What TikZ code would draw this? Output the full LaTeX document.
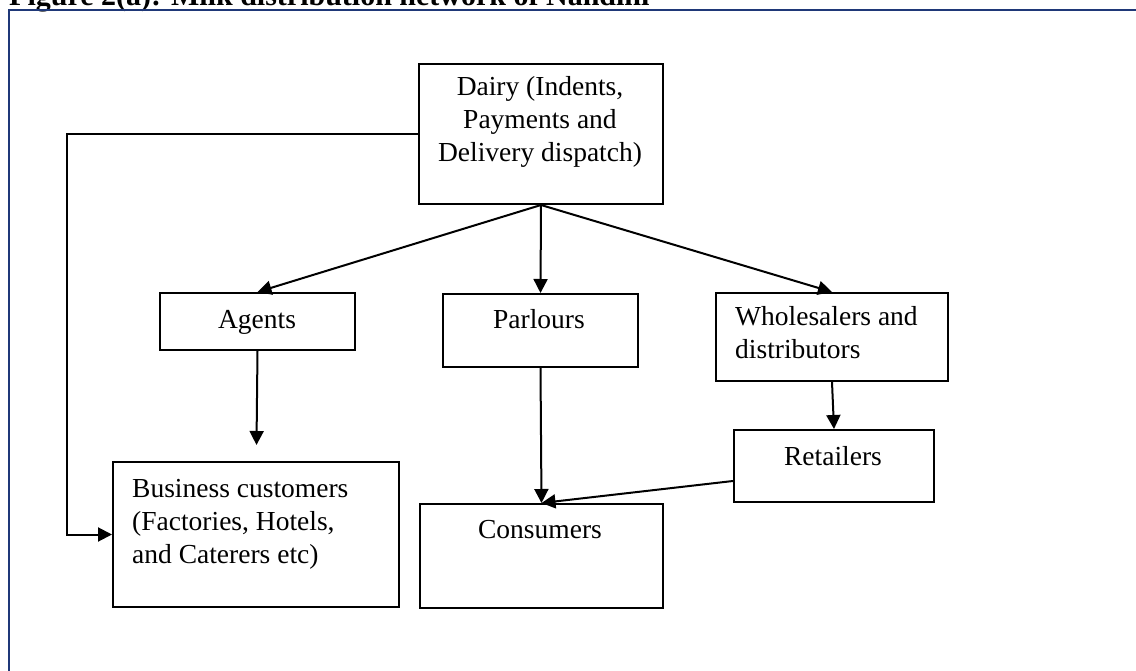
\documentclass[tikz,border=0pt]{standalone}
\usepackage{fontspec}
\setmainfont{Liberation Serif}
\usetikzlibrary{arrows.meta}
\definecolor{framenavy}{RGB}{31,56,120}
\tikzset{
  box/.style={draw=black, line width=2pt, rectangle, inner sep=0pt, anchor=north west},
  txt/.style={inner sep=0pt, font=\fontsize{27.5}{33}\selectfont},
  arr/.style={draw=black, line width=2pt, -{Triangle[length=14pt,width=14pt]}},
  frame/.style={draw=framenavy, line width=2.4pt},
}
\begin{document}
\begin{tikzpicture}[x=1pt,y=-1pt]
\useasboundingbox (0,0) rectangle (1136,671);

% heading and the page frame round the figure
\node[anchor=base west, inner sep=0pt, font=\fontsize{30}{36}\selectfont\bfseries] (title) at (9,6)
  {Figure 2(a): Milk distribution network of Nandini};
\draw[frame] (1150,10) -- (9,10) -- (9,690);

% boxes
\node[box, minimum width=244pt, minimum height=140pt] (dairy) at (418,63) {};
\node[box, minimum width=195pt, minimum height=57pt]  (agents) at (159,292) {};
\node[box, minimum width=195pt, minimum height=73pt]  (parlours) at (442,293) {};
\node[box, minimum width=232pt, minimum height=88pt]  (whole) at (715,292) {};
\node[box, minimum width=200pt, minimum height=72pt]  (retail) at (733,429) {};
\node[box, minimum width=286pt, minimum height=145pt] (biz) at (112,461) {};
\node[box, minimum width=243pt, minimum height=104pt] (cons) at (419,503) {};

% box texts (base anchor of a multi-line node sits on its last line)
\node[txt, align=center, anchor=base] (dairyT) at (540,162)
  {Dairy (Indents,\\Payments and\\Delivery dispatch)};
\node[txt, anchor=base] (agentsT) at (257,328) {Agents};
\node[txt, anchor=base] (parloursT) at (539,329) {Parlours};
\node[txt, align=left, anchor=base west] (wholeT) at (735,358)
  {Wholesalers and\\distributors};
\node[txt, anchor=base] (retailT) at (833,465) {Retailers};
\node[txt, align=left, anchor=base west] (bizT) at (132,563)
  {Business customers\\(Factories, Hotels,\\and Caterers etc)};
\node[txt, anchor=base] (consT) at (540,538) {Consumers};

% connectors
\coordinate (turn) at (67,300);
\coordinate (agentsEnd) at (256.5,445);
\draw[arr] (dairy.south) -- (agents.north);
\draw[arr] (dairy.south) -- (parlours.north);
\draw[arr] (dairy.south) -- (whole.north);
\draw[arr] (agents.south) -- (agentsEnd);
\draw[arr] (parlours.south) -- (cons.north);
\draw[arr] (whole.south) -- (retail.north);
\draw[arr] ([yshift=-15pt]retail.west) -- (cons.north);
\draw[arr] (dairy.west) -| (turn) |- (biz.west);
\end{tikzpicture}
\end{document}
